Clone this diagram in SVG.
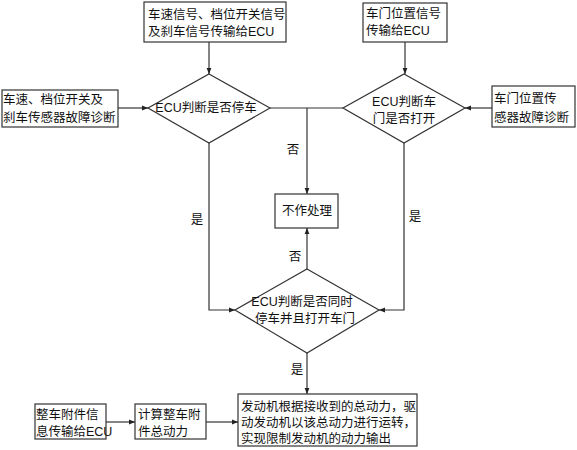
<svg xmlns="http://www.w3.org/2000/svg" width="577" height="450" viewBox="0 0 577 450">
<defs>
<style>
.b{fill:#fff;stroke:#333;stroke-width:1.2}
.l{fill:none;stroke:#333;stroke-width:1.2}
text{font-family:"Liberation Sans","Noto Sans CJK SC",sans-serif;font-size:12.5px;fill:#111;dominant-baseline:central}
.m{text-anchor:middle}
</style>
<marker id="a" viewBox="0 0 10 10" refX="10" refY="5" markerWidth="6" markerHeight="6" orient="auto" markerUnits="userSpaceOnUse">
<path d="M0,1 L10,5 L0,9 z" fill="#222"/>
</marker>
</defs>
<rect width="577" height="450" fill="#fff"/>
<g id="connectors">
<path class="l" d="M209,42 V74" marker-end="url(#a)"/>
<path class="l" d="M405,42 V74" marker-end="url(#a)"/>
<path class="l" d="M118,108 H148" marker-end="url(#a)"/>
<path class="l" d="M492,108 H465" marker-end="url(#a)"/>
<path class="l" d="M270,108 H343"/>
<path class="l" d="M307,108 V194" marker-end="url(#a)"/>
<path class="l" d="M209,143 V310 H235" marker-end="url(#a)"/>
<path class="l" d="M404,143 V310 H379" marker-end="url(#a)"/>
<path class="l" d="M307,269 V228" marker-end="url(#a)"/>
<path class="l" d="M307,353 V394" marker-end="url(#a)"/>
<path class="l" d="M106,422 H135" marker-end="url(#a)"/>
<path class="l" d="M206,422 H238" marker-end="url(#a)"/>
<text x="293" y="150" class="m">否</text>
<text x="197" y="220" class="m">是</text>
<text x="415" y="217" class="m">是</text>
<text x="295" y="257" class="m">否</text>
<text x="297" y="370" class="m">是</text>
</g>
<g id="n1"><rect class="b" x="144" y="2" width="142" height="40"/>
<text x="148" y="15">车速信号、档位开关信号<tspan x="148" dy="17">及刹车信号传输给ECU</tspan></text></g>
<g id="n2"><rect class="b" x="363" y="3" width="84" height="39"/>
<text x="366" y="14">车门位置信号<tspan x="366" dy="17">传输给ECU</tspan></text></g>
<g id="n3"><rect class="b" x="2" y="90" width="116" height="37"/>
<text x="3" y="100">车速、档位开关及<tspan x="3" dy="18">刹车传感器故障诊断</tspan></text></g>
<g id="n4"><rect class="b" x="492" y="86" width="83" height="41"/>
<text x="494" y="99">车门位置传<tspan x="494" dy="19">感器故障诊断</tspan></text></g>
<g id="d1"><path class="b" d="M209,74 L270,108 L209,143 L148,108 z"/>
<text x="206" y="108" class="m">ECU判断是否停车</text></g>
<g id="d2"><path class="b" d="M404,74 L465,108 L404,143 L343,108 z"/>
<text x="404" y="102" class="m">ECU判断车<tspan x="404" dy="17">门是否打开</tspan></text></g>
<g id="n5"><rect class="b" x="275" y="194" width="63" height="34"/>
<text x="307" y="211" class="m">不作处理</text></g>
<g id="d3"><path class="b" d="M307,269 L379,310 L307,353 L235,310 z"/>
<text x="302" y="302" class="m">ECU判断是否同时<tspan x="305" dy="17">停车并且打开车门</tspan></text></g>
<g id="n6"><rect class="b" x="238" y="394" width="179" height="52"/>
<text x="241" y="407">发动机根据接收到的总动力，驱<tspan x="241" dy="16">动发动机以该总动力进行运转，</tspan><tspan x="241" dy="16">实现限制发动机的动力输出</tspan></text></g>
<g id="n7"><rect class="b" x="35" y="404" width="71" height="35"/>
<text x="36" y="415">整车附件信<tspan x="36" dy="17">息传输给ECU</tspan></text></g>
<g id="n8"><rect class="b" x="135" y="404" width="71" height="35"/>
<text x="138" y="415">计算整车附<tspan x="138" dy="17">件总动力</tspan></text></g>
</svg>
